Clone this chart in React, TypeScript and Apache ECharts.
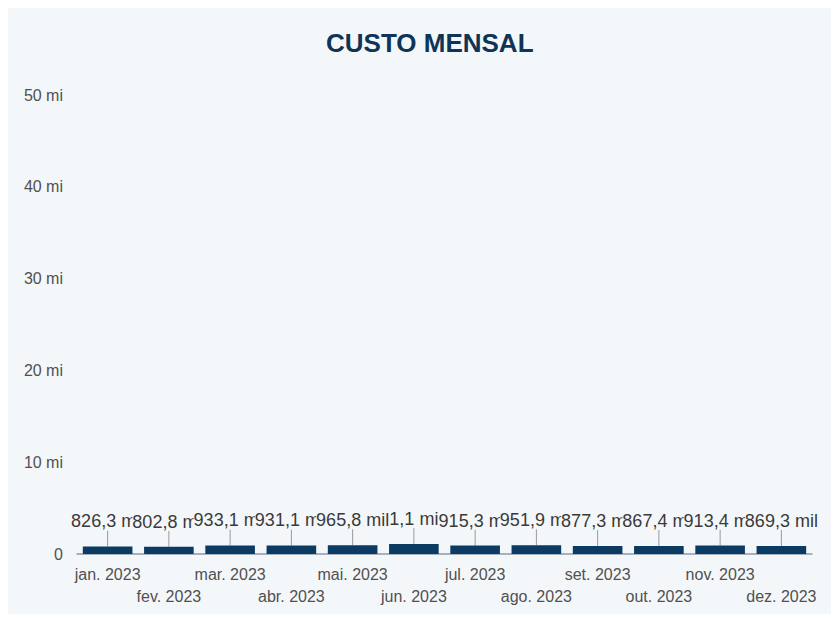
import React, { useEffect, useRef } from "react";
import * as echarts from "echarts";

const months = [
  "jan. 2023", "fev. 2023", "mar. 2023", "abr. 2023", "mai. 2023", "jun. 2023",
  "jul. 2023", "ago. 2023", "set. 2023", "out. 2023", "nov. 2023", "dez. 2023",
];
const custo = [826300, 802800, 933100, 931100, 965800, 1100000, 915300, 951900, 877300, 867400, 913400, 869300];
const yMax = 50000000;
const yInterval = 10000000;

const fmtNum = (v: number) => {
  if (v >= 1000000) {
    return (v / 1000000).toLocaleString("pt-BR", { maximumFractionDigits: 1 }) + " mi";
  }
  if (v >= 1000) {
    return (v / 1000).toLocaleString("pt-BR", { maximumFractionDigits: 1 }) + " mil";
  }
  return String(v);
};

export default function App() {
  const ref = useRef<HTMLDivElement>(null);
  useEffect(() => {
    const chart = echarts.init(ref.current!, undefined, { renderer: "svg" });
    chart.setOption({
      animation: false,
      backgroundColor: "#F4F7FA",
      title: {
        text: "CUSTO MENSAL",
        left: 313,
        top: 17,
        textStyle: { fontFamily: "Liberation Sans", fontSize: 26, fontWeight: "bold", color: "#0E3457" },
      },
      grid: { left: 69, right: 19, top: 87, bottom: 60 },
      xAxis: {
        type: "category",
        data: months,
        axisLine: { lineStyle: { color: "#8C9BAB", width: 1.5 } },
        axisTick: { show: false },
        axisLabel: {
          interval: 0,
          fontFamily: "Liberation Sans",
          fontSize: 16,
          color: "#505050",
          margin: 9,
          lineHeight: 22,
          formatter: (v: string, i: number) => (i % 2 === 1 ? "\n" + v : v),
        },
      },
      yAxis: {
        type: "value",
        min: 0,
        max: yMax,
        interval: yInterval,
        splitLine: { show: false },
        axisLine: { show: false },
        axisTick: { show: false },
        axisLabel: {
          fontFamily: "Liberation Sans",
          fontSize: 16,
          color: "#505050",
          margin: 14,
          formatter: (v: number) => (v === 0 ? "0" : fmtNum(v)),
        },
      },
      series: [
        {
          type: "bar",
          data: custo,
          barWidth: "81%",
          itemStyle: { color: "#0B3A63" },
          label: {
            show: true,
            position: "top",
            distance: 2,
            fontFamily: "'Liberation Sans Narrow', 'Arial Narrow', 'Liberation Sans'",
            fontSize: 18,
            color: "#3a3a3a",
            backgroundColor: "#F4F7FA",
            padding: [0, 0, 0, 0],
            formatter: (p: any) => fmtNum(p.value),
          },
          labelLayout: { dy: -14 },
          labelLine: { show: true, lineStyle: { color: "#999", width: 1 } },
        },
      ],
    });
    return () => chart.dispose();
  }, []);
  return <div ref={ref} style={{ width: 823, height: 606 }} />;
}
